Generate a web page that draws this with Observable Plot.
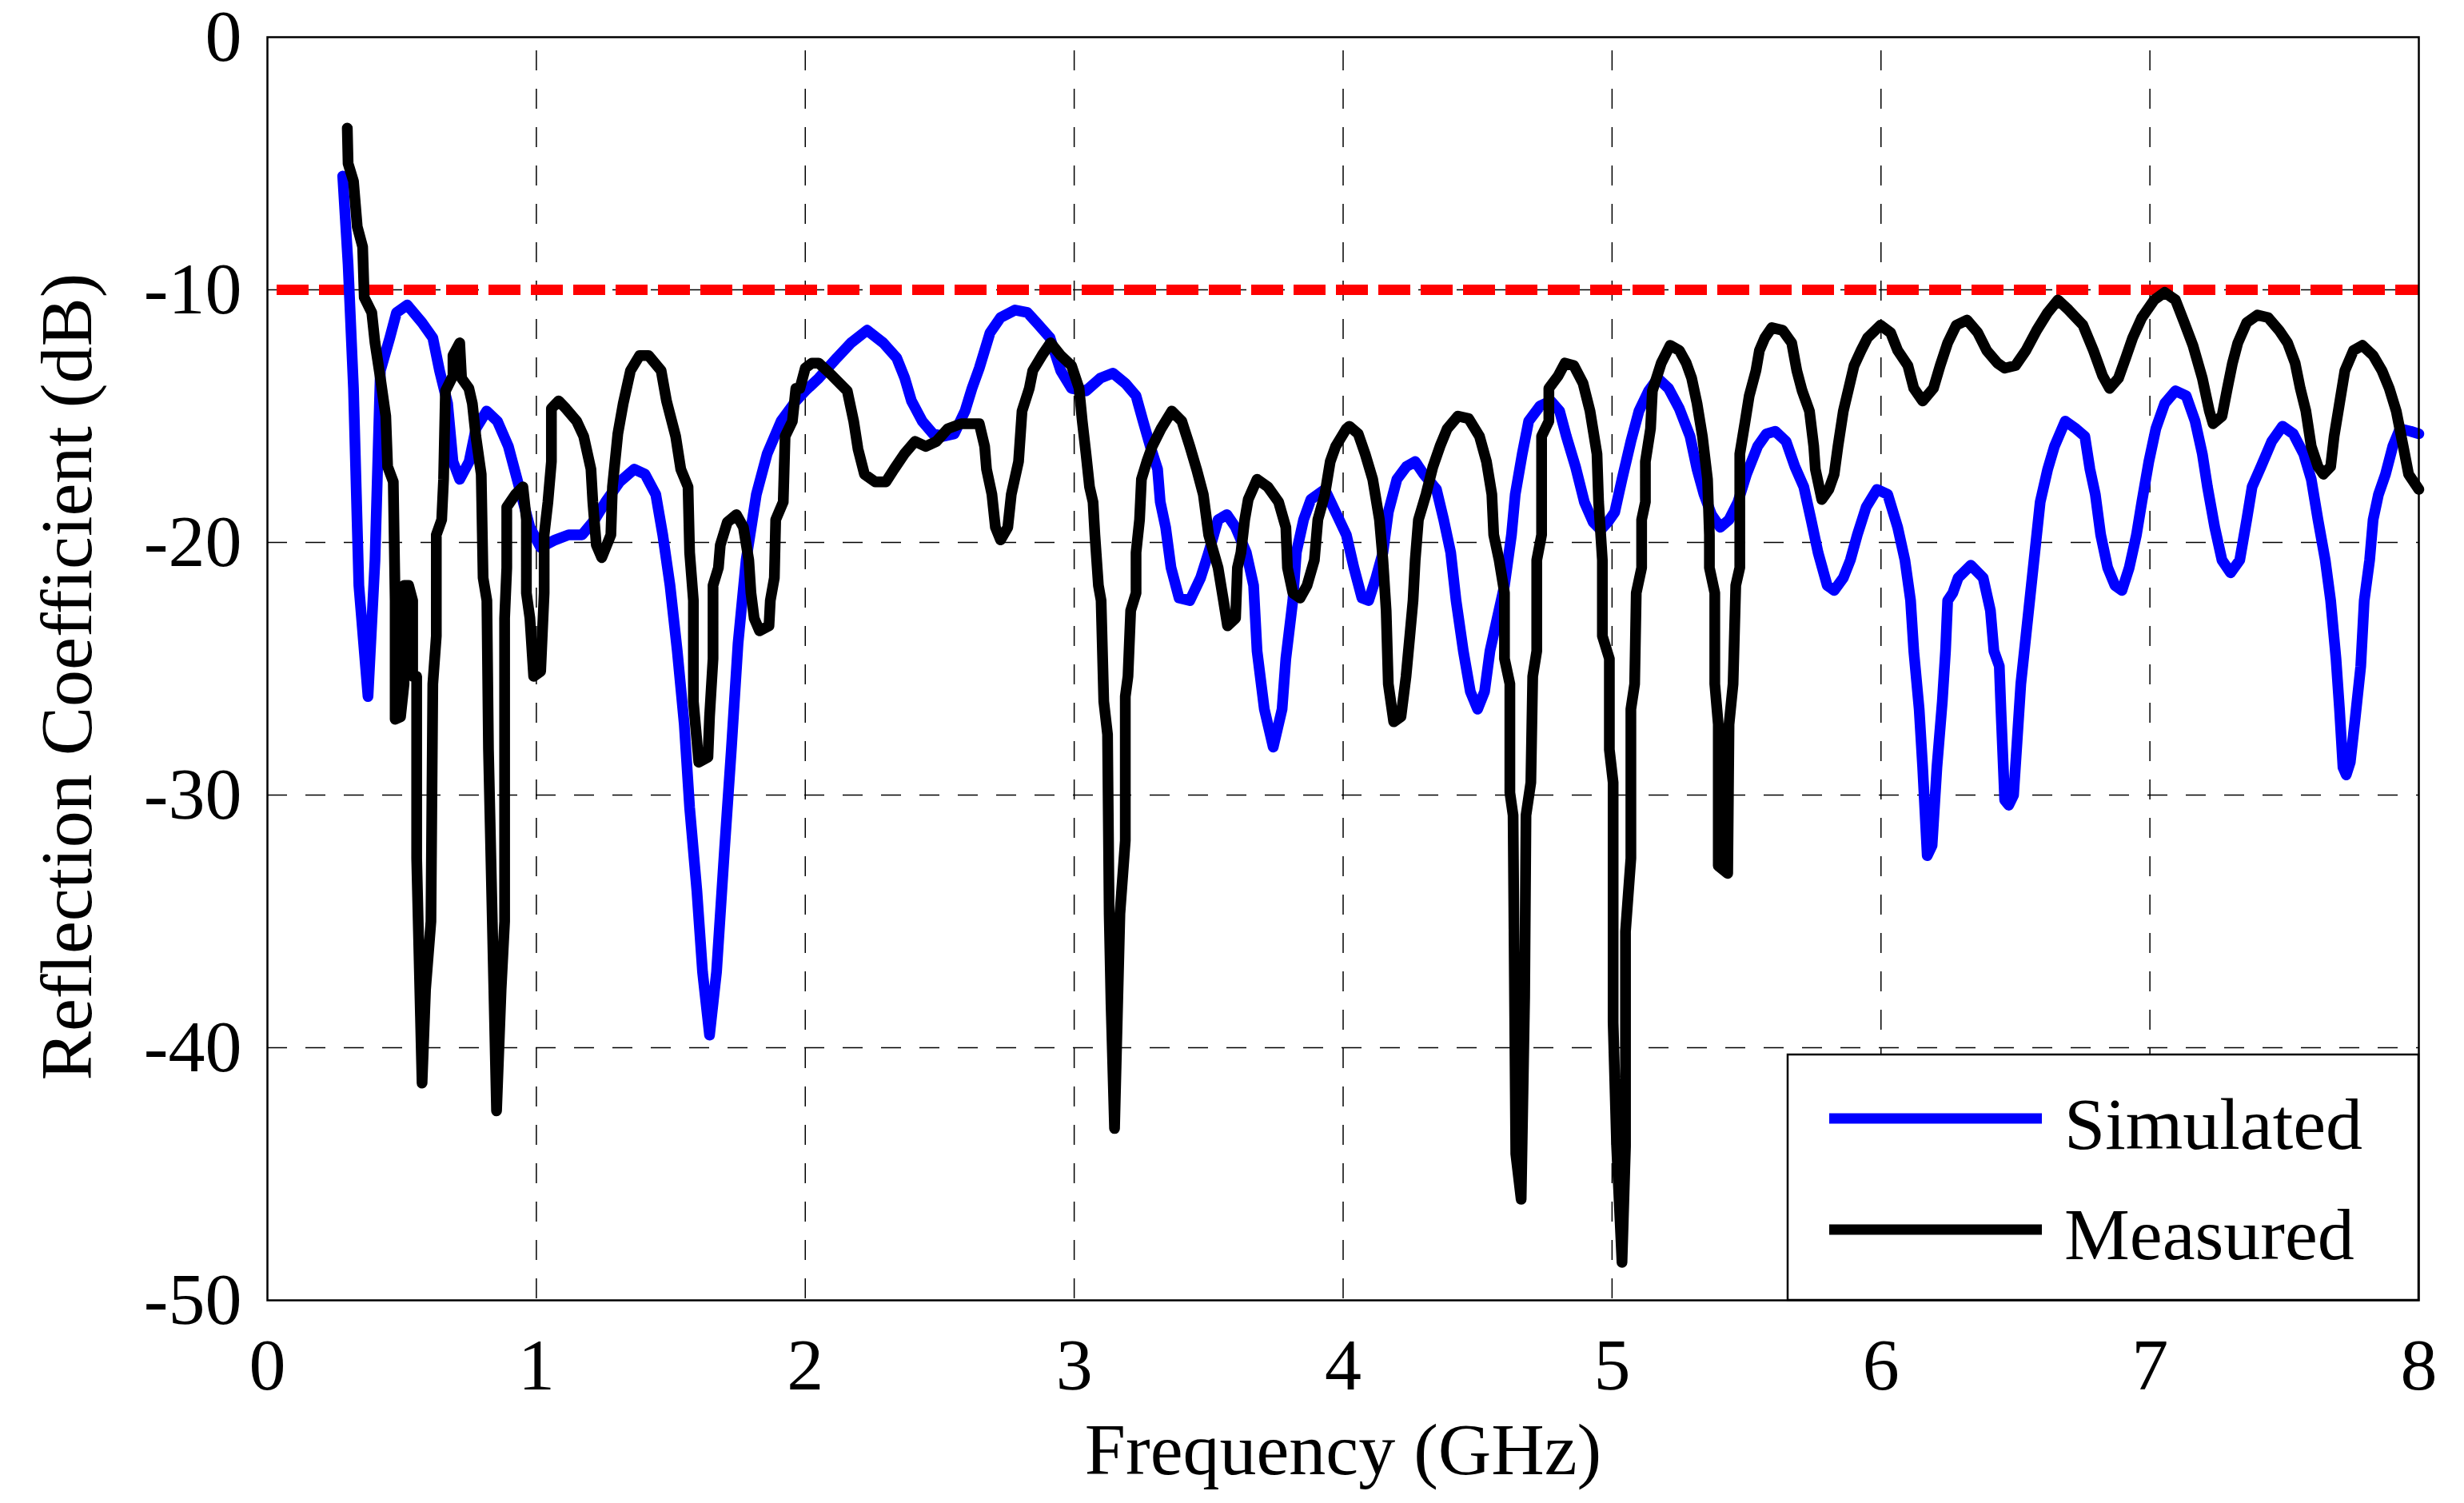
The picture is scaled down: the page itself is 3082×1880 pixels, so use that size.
<!DOCTYPE html>
<html><head><meta charset="utf-8">
<script src="https://cdn.jsdelivr.net/npm/d3@7"></script>
<script src="https://cdn.jsdelivr.net/npm/@observablehq/plot@0.6"></script>
<style>html,body{margin:0;padding:0;background:#fff;} #chart{position:relative;width:3082px;height:1880px;}</style>
</head><body><div id="chart"></div>
<script>
const simFreq = [0.28,0.30,0.32,0.34,0.374,0.40,0.42,0.455,0.48,0.52,0.575,0.615,0.64,0.67,0.69,0.715,0.75,0.775,0.815,0.855,0.896,0.936,0.976,1.016,1.07,1.12,1.17,1.217,1.257,1.31,1.364,1.404,1.444,1.47,1.497,1.524,1.55,1.57,1.597,1.618,1.644,1.67,1.70,1.725,1.75,1.78,1.818,1.858,1.91,1.965,2.0,2.05,2.117,2.17,2.23,2.29,2.34,2.37,2.395,2.435,2.475,2.514,2.554,2.594,2.62,2.647,2.687,2.726,2.78,2.826,2.86,2.91,2.95,2.99,3.044,3.097,3.144,3.19,3.23,3.256,3.283,3.31,3.32,3.34,3.36,3.39,3.43,3.47,3.5,3.535,3.568,3.6,3.64,3.667,3.68,3.707,3.74,3.773,3.787,3.813,3.826,3.853,3.88,3.932,3.972,4.012,4.04,4.07,4.095,4.122,4.148,4.168,4.2,4.235,4.268,4.3,4.347,4.374,4.4,4.42,4.447,4.473,4.5,4.526,4.546,4.573,4.6,4.626,4.64,4.666,4.69,4.732,4.772,4.805,4.83,4.864,4.897,4.93,4.958,4.984,5.01,5.037,5.07,5.1,5.136,5.17,5.21,5.25,5.29,5.316,5.342,5.37,5.402,5.435,5.468,5.5,5.541,5.574,5.607,5.647,5.68,5.713,5.74,5.766,5.8,5.826,5.86,5.886,5.912,5.945,5.985,6.025,6.062,6.089,6.11,6.122,6.142,6.155,6.172,6.19,6.208,6.228,6.24,6.248,6.267,6.287,6.334,6.38,6.407,6.42,6.44,6.446,6.46,6.475,6.493,6.506,6.52,6.539,6.559,6.579,6.592,6.62,6.645,6.685,6.725,6.758,6.777,6.797,6.817,6.843,6.87,6.896,6.923,6.95,6.97,6.996,7.022,7.055,7.095,7.135,7.168,7.195,7.214,7.241,7.268,7.3,7.334,7.36,7.38,7.413,7.453,7.493,7.533,7.572,7.6,7.625,7.652,7.672,7.692,7.705,7.718,7.73,7.745,7.764,7.784,7.797,7.817,7.83,7.85,7.876,7.903,7.93,7.97,8.0];
const simDb = [-5.5,-9,-13.9,-21.7,-26.1,-20.7,-13.2,-11.9,-10.9,-10.6,-11.3,-11.9,-13.2,-14.5,-16.8,-17.5,-16.8,-15.5,-14.8,-15.2,-16.2,-17.8,-19.4,-20.2,-19.9,-19.7,-19.7,-19.1,-18.4,-17.6,-17.1,-17.3,-18.1,-19.7,-21.7,-24.3,-27.2,-30.5,-33.8,-37,-39.5,-37,-32.1,-28.2,-24,-20.7,-18.1,-16.5,-15.2,-14.4,-14.0,-13.5,-12.7,-12.1,-11.6,-12.1,-12.7,-13.5,-14.4,-15.2,-15.7,-15.8,-15.7,-14.8,-13.9,-13.1,-11.7,-11.1,-10.8,-10.9,-11.3,-11.9,-13.2,-13.9,-14.0,-13.5,-13.3,-13.7,-14.2,-15.2,-16.2,-17.1,-18.4,-19.4,-21,-22.2,-22.3,-21.4,-20.4,-19.1,-18.9,-19.4,-20.4,-21.7,-24.3,-26.6,-28.1,-26.6,-24.6,-22.3,-20.4,-19.1,-18.3,-17.9,-18.8,-19.7,-21.0,-22.2,-22.3,-21.4,-20.4,-18.8,-17.5,-17.0,-16.8,-17.3,-17.9,-19.1,-20.4,-22.3,-24.3,-25.9,-26.6,-25.9,-24.3,-23.0,-21.7,-19.7,-18.1,-16.5,-15.2,-14.6,-14.4,-14.8,-15.8,-17.0,-18.4,-19.2,-19.5,-19.2,-18.8,-17.5,-16.0,-14.8,-14.0,-13.5,-13.9,-14.7,-15.8,-17.1,-18.1,-18.9,-19.4,-19.1,-18.4,-17.3,-16.2,-15.7,-15.6,-16.0,-17.0,-17.8,-19.1,-20.4,-21.7,-21.9,-21.4,-20.7,-19.7,-18.6,-17.9,-18.1,-19.4,-20.7,-22.3,-24.3,-26.6,-28.9,-32.4,-32.0,-28.9,-26.3,-24.3,-22.3,-22.0,-21.4,-20.9,-21.4,-22.7,-24.3,-24.9,-26.6,-30.2,-30.4,-30.0,-27.9,-25.6,-23.7,-21.7,-19.7,-18.4,-17.1,-16.2,-15.2,-15.5,-15.8,-17.1,-18.1,-19.7,-21.0,-21.7,-21.9,-21.0,-19.7,-18.4,-16.8,-15.5,-14.5,-14.0,-14.2,-15.2,-16.5,-17.8,-19.4,-20.7,-21.2,-20.7,-19.1,-17.8,-17.0,-16.0,-15.4,-15.7,-16.5,-17.5,-19.1,-20.7,-22.3,-24.6,-26.6,-28.9,-29.2,-28.7,-26.9,-24.9,-22.3,-20.7,-19.1,-18.1,-17.3,-16.2,-15.5,-15.6,-15.7];
const measFreq = [0.297,0.30,0.32,0.334,0.354,0.36,0.388,0.40,0.42,0.44,0.447,0.468,0.475,0.475,0.495,0.508,0.508,0.525,0.54,0.54,0.555,0.555,0.575,0.588,0.608,0.615,0.628,0.628,0.648,0.655,0.662,0.69,0.69,0.715,0.722,0.749,0.762,0.775,0.795,0.802,0.816,0.822,0.852,0.869,0.882,0.882,0.89,0.89,0.922,0.95,0.963,0.963,0.976,0.99,1.016,1.029,1.029,1.043,1.056,1.056,1.083,1.11,1.15,1.176,1.203,1.21,1.223,1.243,1.277,1.283,1.303,1.323,1.35,1.384,1.417,1.464,1.484,1.518,1.537,1.564,1.57,1.584,1.584,1.604,1.638,1.644,1.657,1.657,1.677,1.684,1.71,1.744,1.77,1.79,1.798,1.81,1.83,1.865,1.87,1.885,1.89,1.918,1.925,1.952,1.965,1.98,2.0,2.025,2.05,2.1,2.156,2.18,2.196,2.22,2.26,2.3,2.33,2.368,2.408,2.448,2.488,2.53,2.58,2.647,2.667,2.674,2.694,2.707,2.726,2.753,2.766,2.793,2.806,2.833,2.846,2.88,2.912,2.95,2.99,3.018,3.03,3.044,3.057,3.07,3.077,3.09,3.1,3.11,3.124,3.13,3.137,3.15,3.17,3.19,3.19,3.2,3.21,3.23,3.23,3.243,3.25,3.27,3.29,3.323,3.363,3.4,3.43,3.455,3.48,3.5,3.535,3.555,3.57,3.6,3.607,3.62,3.634,3.647,3.68,3.72,3.76,3.787,3.793,3.813,3.84,3.866,3.893,3.906,3.932,3.952,3.972,4.012,4.023,4.056,4.082,4.11,4.135,4.148,4.16,4.168,4.188,4.215,4.234,4.248,4.26,4.268,4.28,4.308,4.334,4.36,4.387,4.427,4.467,4.507,4.533,4.553,4.56,4.58,4.6,4.6,4.62,4.62,4.632,4.642,4.662,4.675,4.68,4.698,4.705,4.72,4.72,4.738,4.738,4.765,4.765,4.8,4.825,4.858,4.892,4.918,4.944,4.95,4.964,4.964,4.99,4.99,5.004,5.004,5.017,5.037,5.05,5.05,5.07,5.07,5.084,5.09,5.11,5.11,5.124,5.124,5.143,5.15,5.183,5.216,5.25,5.276,5.296,5.316,5.336,5.355,5.362,5.362,5.382,5.382,5.395,5.395,5.43,5.435,5.45,5.46,5.475,5.475,5.495,5.51,5.535,5.548,5.568,5.594,5.634,5.668,5.687,5.707,5.734,5.75,5.756,5.78,5.806,5.826,5.84,5.86,5.88,5.9,5.926,5.95,5.998,6.036,6.062,6.1,6.122,6.155,6.195,6.22,6.248,6.28,6.32,6.36,6.393,6.433,6.46,6.5,6.539,6.579,6.62,6.658,6.698,6.751,6.79,6.824,6.85,6.883,6.91,6.936,6.97,7.016,7.055,7.095,7.128,7.16,7.195,7.221,7.235,7.268,7.288,7.307,7.327,7.36,7.4,7.44,7.48,7.512,7.54,7.559,7.58,7.6,7.625,7.645,7.672,7.685,7.705,7.725,7.757,7.79,7.83,7.863,7.89,7.916,7.942,7.962,8.0];
const measDb = [-3.6,-5.0,-5.7,-7.5,-8.3,-10.3,-10.9,-12.1,-13.5,-15.0,-17.0,-17.6,-22.3,-27.0,-26.9,-25.6,-21.7,-21.7,-22.3,-25.3,-25.3,-32.5,-41.4,-37.7,-35.0,-25.6,-23.7,-19.7,-19.1,-17.5,-14.0,-13.4,-12.6,-12.1,-13.5,-13.9,-14.5,-15.8,-17.3,-21.4,-22.3,-28.2,-42.5,-37.7,-35.0,-23.0,-21.0,-18.6,-18.1,-17.8,-19.1,-22.0,-23.0,-25.3,-25.1,-22.0,-19.7,-18.4,-16.8,-14.7,-14.4,-14.7,-15.2,-15.8,-17.1,-18.4,-20.1,-20.6,-19.7,-17.8,-15.7,-14.5,-13.2,-12.6,-12.6,-13.2,-14.4,-15.8,-17.1,-17.8,-20.4,-22.3,-26.3,-28.7,-28.5,-26.9,-24.6,-21.7,-21.0,-20.1,-19.2,-18.9,-19.4,-20.7,-22.0,-23.0,-23.5,-23.3,-22.3,-21.4,-19.1,-18.4,-15.8,-15.2,-13.9,-13.9,-13.1,-12.9,-12.9,-13.4,-14.0,-15.2,-16.3,-17.3,-17.6,-17.6,-17.1,-16.5,-16.0,-16.2,-16.0,-15.5,-15.3,-15.3,-16.2,-17.1,-18.1,-19.4,-19.9,-19.4,-18.1,-16.8,-14.8,-13.9,-13.2,-12.6,-12.1,-12.6,-13.0,-13.9,-15.2,-16.5,-17.8,-18.4,-19.7,-21.7,-22.3,-26.3,-27.6,-34.7,-38.3,-43.2,-34.7,-31.8,-26.1,-25.3,-22.7,-22.0,-20.4,-19.1,-17.5,-16.8,-16.2,-15.5,-14.8,-15.2,-16.2,-17.1,-18.1,-19.7,-21.0,-22.3,-23.3,-23.0,-21.0,-20.4,-19.1,-18.3,-17.5,-17.8,-18.4,-19.4,-21.0,-22.0,-22.2,-21.7,-20.7,-19.1,-18.1,-16.8,-16.2,-15.5,-15.4,-15.7,-16.5,-17.5,-19.1,-20.7,-22.7,-25.6,-27.1,-26.9,-25.3,-23.7,-22.3,-20.7,-19.1,-18.1,-17.0,-16.2,-15.5,-15.0,-15.1,-15.8,-16.8,-18.1,-19.7,-20.7,-22.0,-24.6,-25.6,-29.9,-30.8,-44.2,-46.0,-38.0,-30.8,-29.5,-25.3,-24.3,-20.7,-19.7,-15.8,-15.2,-13.9,-13.4,-12.9,-13.0,-13.7,-14.8,-16.5,-18.4,-20.7,-23.7,-24.6,-28.2,-29.5,-39.0,-43.9,-48.5,-43.9,-35.4,-32.5,-26.6,-25.6,-22.0,-21.0,-19.1,-18.4,-16.8,-15.5,-14.0,-12.9,-12.2,-12.4,-12.9,-13.5,-14.5,-15.8,-17.5,-19.7,-21.0,-22.0,-25.6,-27.2,-32.8,-33.1,-27.2,-25.6,-21.7,-21.0,-16.5,-15.2,-14.2,-13.2,-12.4,-11.9,-11.5,-11.6,-12.1,-13.2,-14.0,-14.8,-16.2,-17.1,-18.3,-17.9,-17.3,-16.2,-14.8,-13.9,-13.0,-12.4,-11.9,-11.4,-11.7,-12.4,-13.0,-13.9,-14.4,-13.9,-13.0,-12.1,-11.4,-11.2,-11.7,-12.4,-12.9,-13.1,-13.0,-12.4,-11.6,-10.9,-10.4,-10.8,-11.4,-12.4,-13.4,-13.9,-13.5,-12.7,-11.9,-11.1,-10.4,-10.1,-10.4,-11.3,-12.2,-13.5,-14.8,-15.3,-15.0,-13.9,-12.9,-12.1,-11.3,-11.0,-11.1,-11.6,-12.1,-12.9,-13.9,-14.8,-16.2,-17.0,-17.3,-17.0,-15.8,-14.5,-13.2,-12.4,-12.2,-12.6,-13.2,-13.9,-14.8,-16.2,-17.3,-17.9];
const xTicks = [0,1,2,3,4,5,6,7,8];
const yTicks = [0,-10,-20,-30,-40,-50];
const xGrid = [1,2,3,4,5,6,7];
const yGrid = [-10,-20,-30,-40];
const threshold = [-10];
const seriesNames = ["Simulated","Measured"];
const seriesColors = ["#0000ff","#000000"];
const xLabel = "Frequency (GHz)";
const yLabel = "Reflection Coefficient (dB)";

const sim = simFreq.map((f,i)=>({f, db: simDb[i]}));
const meas = measFreq.map((f,i)=>({f, db: measDb[i]}));

const W=3082, H=1880, mL=334, mR=57, mT=46, mB=254;
const FONT = "'Liberation Serif', 'Times New Roman', serif";
const FS = 92;
const LW = 13.5;

const plot = Plot.plot({
  width: W, height: H, marginLeft: mL, marginRight: mR, marginTop: mT, marginBottom: mB,
  style: {fontFamily: FONT, fontSize: FS + "px", background: "#fff", color: "#000", overflow: "visible"},
  x: {domain: [0, 8]},
  y: {domain: [-50, 0]},
  marks: [
    Plot.ruleX(xGrid, {stroke: "#000", strokeWidth: 1.5, strokeDasharray: "25,23", strokeDashoffset: 31}),
    Plot.ruleY(yGrid, {stroke: "#000", strokeWidth: 1.5, strokeDasharray: "25,23"}),
    Plot.ruleY(threshold, {stroke: "#ff0000", strokeWidth: 13, strokeDasharray: "40,13", strokeDashoffset: 41}),
    Plot.line(sim, {x: "f", y: "db", stroke: seriesColors[0], strokeWidth: LW, strokeLinejoin: "round", strokeLinecap: "round"}),
    Plot.line(meas, {x: "f", y: "db", stroke: seriesColors[1], strokeWidth: LW, strokeLinejoin: "round", strokeLinecap: "round"}),
    Plot.frame({stroke: "#000", strokeWidth: 2.5}),
    Plot.axisX({ticks: xTicks, tickSize: 0, tickPadding: 46, tickFormat: d => String(d), label: null, fontSize: FS}),
    Plot.axisY({ticks: yTicks, tickSize: 0, tickPadding: 32, tickFormat: d => String(d), label: null, fontSize: FS}),
    Plot.text([xLabel], {text: d => d, frameAnchor: "bottom", dy: 188, fontSize: FS, textAnchor: "middle", lineAnchor: "middle", fill: "#000"}),
    Plot.text([yLabel], {text: d => d, frameAnchor: "left", dx: -250, dy: 10, rotate: -90, fontSize: FS, textAnchor: "middle", lineAnchor: "middle", fill: "#000"})
  ]
});

const svg = d3.select(plot);
const lg = svg.append("g");
lg.append("rect").attr("x", 2236).attr("y", 1319).attr("width", W - mR - 2236).attr("height", H - mB - 1319)
  .attr("fill", "#fff").attr("stroke", "#000").attr("stroke-width", 2.5);
const swatchY = [1399, 1538];
const textY = [1437, 1575];
seriesNames.forEach((name, i) => {
  lg.append("line").attr("x1", 2288).attr("x2", 2554).attr("y1", swatchY[i]).attr("y2", swatchY[i])
    .attr("stroke", seriesColors[i]).attr("stroke-width", 13);
  lg.append("text").attr("x", 2582).attr("y", textY[i]).text(name)
    .attr("text-anchor", "start")
    .attr("font-family", FONT).attr("font-size", FS).attr("fill", "#000");
});

document.getElementById("chart").appendChild(plot);
</script>
</body></html>
